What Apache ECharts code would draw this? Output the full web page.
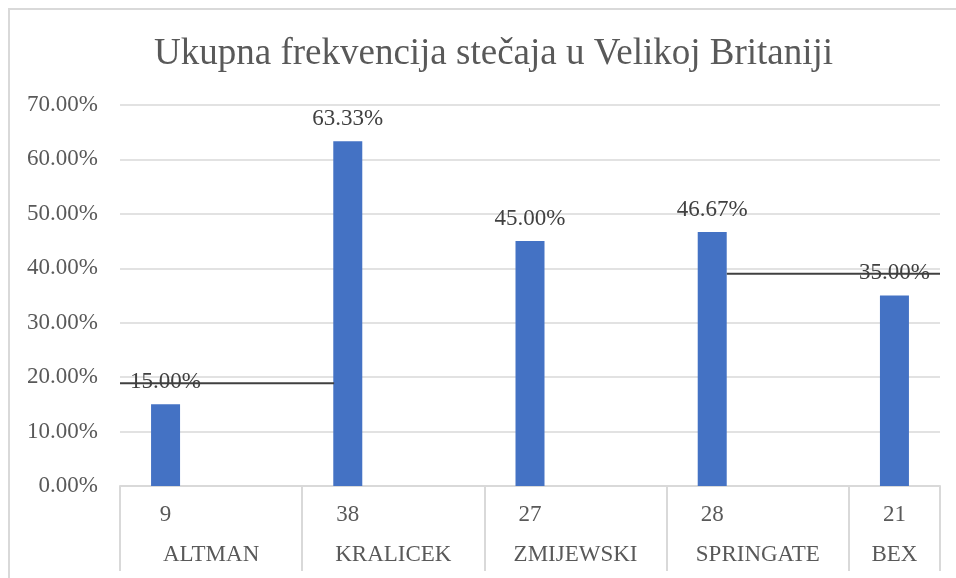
<!DOCTYPE html>
<html>
<head>
<meta charset="utf-8">
<script src="https://cdn.jsdelivr.net/npm/echarts@6/dist/echarts.min.js"></script>
<style>
html,body{margin:0;padding:0;background:#fff;overflow:hidden;}
#chart{width:956px;height:578px;}
.frame{position:absolute;left:8px;top:8px;width:960px;height:580px;border-left:2px solid #d9d9d9;border-top:2px solid #d9d9d9;pointer-events:none;}
</style>
</head>
<body>
<div id="chart"></div>
<div class="frame"></div>
<script>
// podaci
var models = ['ALTMAN', 'KRALICEK', 'ZMIJEWSKI', 'SPRINGATE', 'BEX'];
var counts = ['9', '38', '27', '28', '21'];
var shares = [15.00, 63.33, 45.00, 46.67, 35.00];
var groupSpan = [2, 2, 2, 2, 1];   // koliko mjesta na osi zauzima svaka grupa
var yTicks = [0, 10, 20, 30, 40, 50, 60, 70];
var lineA = [[0, 18.9], [2.35, 18.9]];
var lineB = [[6.66, 39.0], [9, 39.0]];

var fontFam = '"Liberation Serif", "Times New Roman", serif';
var txt = '#595959';
var fs = 23;

// raspored mjesta na kategorijskoj osi
var slots = [], barData = [], bounds = [0], centers = [], pos = 0;
models.forEach(function (m, i) {
    for (var k = 0; k < groupSpan[i]; k++) {
        slots.push(k === 0 ? counts[i] : ' ' + i + k);
        barData.push(k === 0 ? shares[i] : '-');
    }
    centers.push(pos + groupSpan[i] / 2);
    pos += groupSpan[i];
    bounds.push(pos);
});
var total = pos;

var chart = echarts.init(document.getElementById('chart'));
var option = {
    animation: false,
    backgroundColor: '#fff',
    title: {
        text: 'Ukupna frekvencija stečaja u Velikoj Britaniji',
        left: 149,
        top: 31,
        textStyle: {fontFamily: fontFam, fontSize: 37, fontWeight: 'normal', color: txt}
    },
    grid: {left: 120, right: 16, top: 105, bottom: 92},
    xAxis: [{
        type: 'category',
        data: slots,
        axisLine: {show: true, lineStyle: {color: '#d9d9d9', width: 2}},
        axisTick: {show: false},
        axisLabel: {
            interval: 0, margin: 17, fontFamily: fontFam, fontSize: fs, color: txt,
            formatter: function (v) { return v.charAt(0) === ' ' ? '' : v; }
        },
        splitLine: {show: false}
    }, {
        type: 'value',
        min: 0,
        max: total,
        position: 'bottom',
        axisLine: {show: false},
        splitLine: {show: false},
        axisTick: {show: true, customValues: bounds, length: 85, lineStyle: {color: '#d9d9d9', width: 2}},
        axisLabel: {
            customValues: centers, margin: 57, fontFamily: fontFam, fontSize: fs, color: txt,
            formatter: function (v) {
                var i = centers.indexOf(v);
                return i >= 0 ? models[i] : '';
            }
        }
    }],
    yAxis: {
        type: 'value',
        min: yTicks[0],
        max: yTicks[yTicks.length - 1],
        interval: yTicks[1] - yTicks[0],
        axisLine: {show: false},
        axisTick: {show: false},
        splitLine: {lineStyle: {color: '#d9d9d9', width: 1.5}},
        axisLabel: {
            margin: 22, fontFamily: fontFam, fontSize: fs, color: txt,
            formatter: function (v) { return v.toFixed(2) + '%'; }
        }
    },
    series: [{
        type: 'bar',
        data: barData,
        barWidth: 29,
        itemStyle: {color: '#4472C4'},
        label: {
            show: true, position: 'top', distance: 11,
            fontFamily: fontFam, fontSize: fs, color: '#404040',
            formatter: function (p) { return p.value.toFixed(2) + '%'; }
        },
        z: 2
    }, {
        type: 'line',
        xAxisIndex: 1,
        data: lineA,
        symbol: 'none',
        lineStyle: {color: '#404040', width: 2},
        z: 3
    }, {
        type: 'line',
        xAxisIndex: 1,
        data: lineB,
        symbol: 'none',
        lineStyle: {color: '#404040', width: 2},
        z: 3
    }]
};
chart.setOption(option);
</script>
</body>
</html>
